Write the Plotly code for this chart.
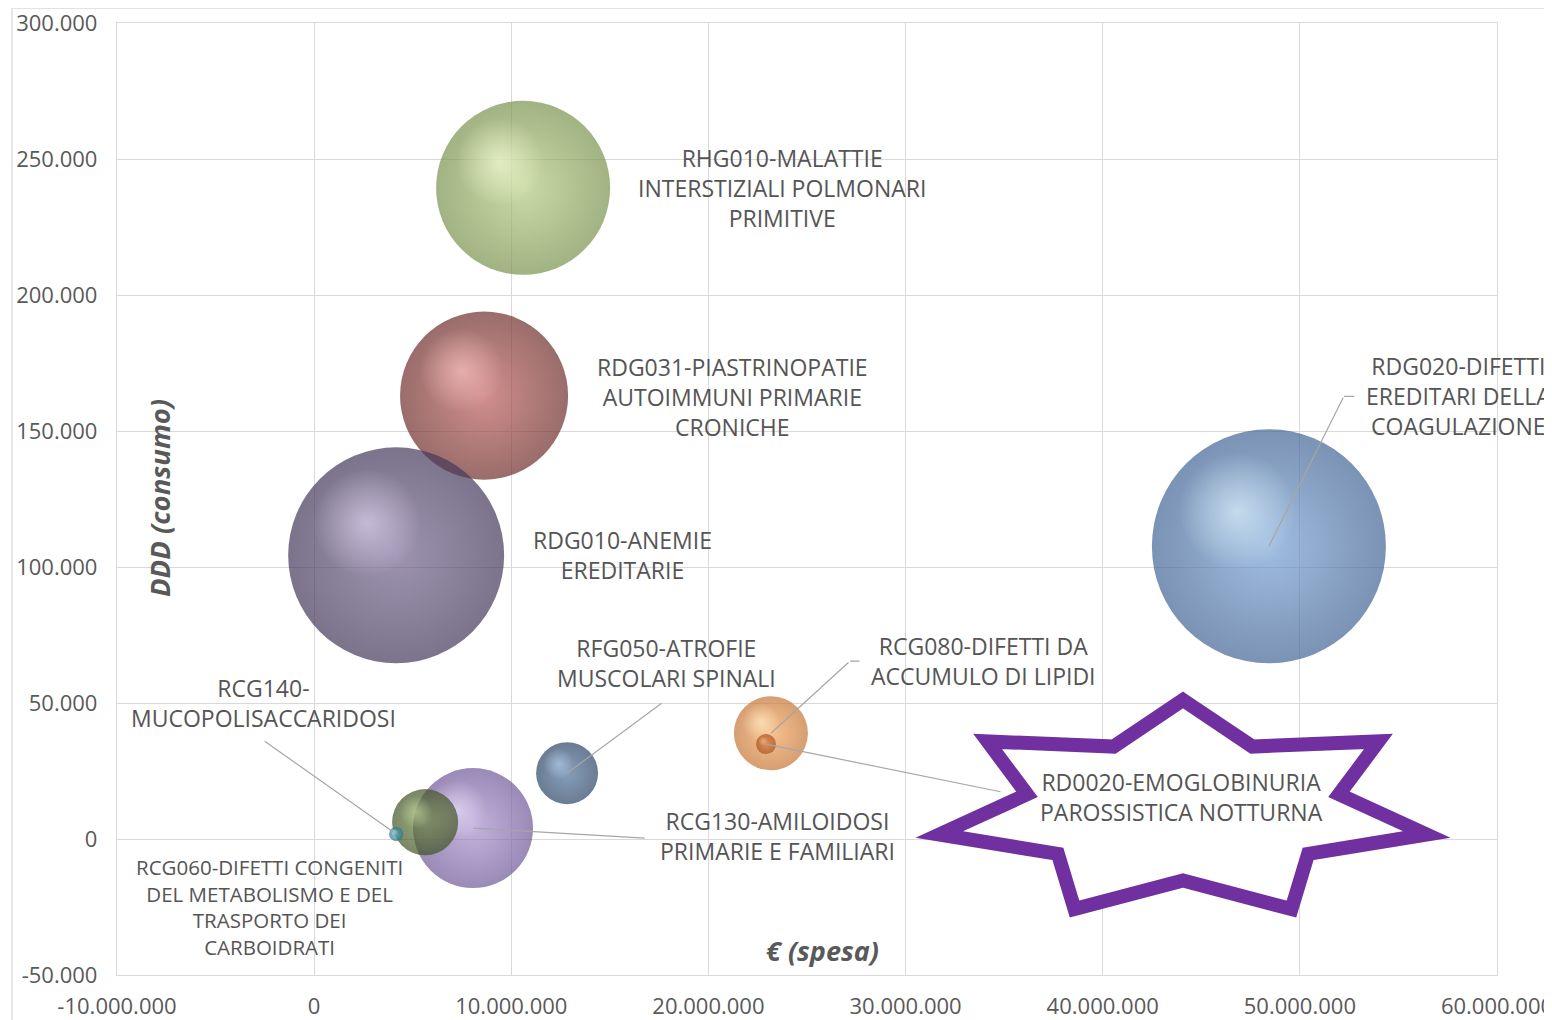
import math
import plotly.graph_objects as go

# ---------------- data ----------------
codici = ["RDG031", "RDG010", "RHG010", "RDG020", "RCG130",
          "RCG060", "RCG140", "RFG050", "RCG080", "RD0020"]
etichette = [
    "RDG031-PIASTRINOPATIE<br>AUTOIMMUNI PRIMARIE<br>CRONICHE",
    "RDG010-ANEMIE<br>EREDITARIE",
    "RHG010-MALATTIE<br>INTERSTIZIALI POLMONARI<br>PRIMITIVE",
    "RDG020-DIFETTI<br>EREDITARI DELLA<br>COAGULAZIONE",
    "RCG130-AMILOIDOSI<br>PRIMARIE E FAMILIARI",
    "RCG060-DIFETTI CONGENITI<br>DEL METABOLISMO E DEL<br>TRASPORTO DEI<br>CARBOIDRATI",
    "RCG140-<br>MUCOPOLISACCARIDOSI",
    "RFG050-ATROFIE<br>MUSCOLARI SPINALI",
    "RCG080-DIFETTI DA<br>ACCUMULO DI LIPIDI",
    "RD0020-EMOGLOBINURIA<br>PAROSSISTICA NOTTURNA",
]
spesa = [8_620_000, 4_160_000, 10_600_000, 48_430_000, 8_060_000,
         5_630_000, 4_160_000, 12_830_000, 23_170_000, 22_920_000]      # € (spesa)
ddd = [163_000, 104_300, 239_400, 107_600, 4_000,
       6_200, 1_800, 24_200, 38_900, 34_900]                             # DDD (consumo)
pazienti = [706, 1166, 757, 1369, 360, 109, 5, 96, 137, 10]              # bubble size

x_tickvals = [-10_000_000, 0, 10_000_000, 20_000_000, 30_000_000,
              40_000_000, 50_000_000, 60_000_000]
x_ticktext = ["-10.000.000", "0", "10.000.000", "20.000.000", "30.000.000",
              "40.000.000", "50.000.000", "60.000.000"]
y_tickvals = [-50_000, 0, 50_000, 100_000, 150_000, 200_000, 250_000, 300_000]
y_ticktext = ["-50.000", "0", "50.000", "100.000", "150.000",
              "200.000", "250.000", "300.000"]

# ---------------- style ----------------
col_centro = ["#BC5E5B", "#73658F", "#B3CB82", "#77A0D2", "#A891CC",
              "#6E8A40", "#4FB2CC", "#52739C", "#F6A660", "#DB7A3C"]
col_bordo = ["#6E2E2C", "#433859", "#7A924E", "#426494", "#6F5898",
             "#405224", "#27738A", "#2B4464", "#C47534", "#A35220"]
col_luce = ["255,200,200", "228,216,244", "250,255,216", "224,246,255", "238,228,255",
            "196,216,160", "208,244,255", "184,208,236", "255,244,200", "248,192,144"]
# label offsets (px) from bubble centre, font sizes
lab_dx = [248, 226, 259, 190, 304, -156, -133, 99, 213, 416]
lab_dy = [1, 0, 0, -150, 8, 85, -131, -110, -72, 53]
lab_fs = [23, 23, 23, 23, 23, 20.5, 23, 23, 23, 23]
# leader lines: end offset (px) from bubble centre, stub length
lead = {
    "RDG020": (75, -150, 12),
    "RFG050": (96, -71, 0),
    "RCG080": (79, -72, 11),
    "RD0020": (236, 48, 0),
    "RCG130": (173, 10, 0),
    "RCG140": (-133, -94, 0),
}

# page offset of the figure (browser body margin)
OFF = 8
W, H = 1544, 1012
# plot area in page pixels
PL, PR, PT, PB = 117, 1497, 23, 975
PW, PH = PR - PL, PB - PT
ML, MT = PL - OFF, PT - OFF
MR, MB = W - ML - PW, H - MT - PH
XR = [-10_000_000, 60_000_000]
YR = [-50_000, 300_000]
xper = (XR[1] - XR[0]) / PW
yper = (YR[1] - YR[0]) / PH
SIZEREF = 0.05

fig = go.Figure()
for i in range(len(codici)):
    fig.add_trace(go.Scatter(
        x=[spesa[i]], y=[ddd[i]], mode="markers", name=codici[i],
        marker=dict(size=[pazienti[i]], sizemode="area", sizeref=SIZEREF,
                    color=col_bordo[i], line=dict(width=0),
                    gradient=dict(type="radial", color=col_centro[i])),
        hoverinfo="name", showlegend=False))
    r = math.sqrt(2 * pazienti[i] / SIZEREF) / 2
    fig.add_trace(go.Scatter(
        x=[spesa[i] - 0.27 * r * xper], y=[ddd[i] + 0.3 * r * yper], mode="markers",
        marker=dict(size=[pazienti[i] / 4], sizemode="area", sizeref=SIZEREF,
                    color="rgba(%s,0)" % col_luce[i], line=dict(width=0),
                    gradient=dict(type="radial", color="rgba(%s,0.9)" % col_luce[i])),
        hoverinfo="skip", showlegend=False))

TXT = "#555555"
FONT = "Open Sans"
ann = []
for i, c in enumerate(codici):
    if c in lead:
        ax, ay, stub = lead[c]
        ann.append(dict(x=spesa[i], y=ddd[i], xref="x", yref="y", text="",
                        showarrow=True, arrowhead=0, arrowwidth=1.2, arrowcolor="#a6a6a6",
                        ax=ax, ay=ay, standoff=0, startstandoff=0))
        if stub:
            ann.append(dict(x=spesa[i], y=ddd[i], xref="x", yref="y", text="",
                            xshift=ax, yshift=-ay,
                            showarrow=True, arrowhead=0, arrowwidth=1.2, arrowcolor="#a6a6a6",
                            ax=stub, ay=0, standoff=0, startstandoff=0))
for i, c in enumerate(codici):
    ann.append(dict(x=spesa[i], y=ddd[i], xref="x", yref="y", text=etichette[i],
                    showarrow=False, xshift=lab_dx[i], yshift=-lab_dy[i],
                    xanchor="center", yanchor="middle", align="center",
                    font=dict(family=FONT, size=lab_fs[i], color=TXT)))

def px2paper(X, Y):
    return (X - PL) / PW, (PB - Y) / PH

ann.append(dict(x=px2paper(822, 950)[0], y=px2paper(822, 950)[1], xref="paper", yref="paper",
                xanchor="center", yanchor="middle",
                text="<b><i>€ (spesa)</i></b>", showarrow=False,
                font=dict(family=FONT, size=27, color="#595959")))
ann.append(dict(x=px2paper(159, 498)[0], y=px2paper(159, 498)[1], xref="paper", yref="paper",
                xanchor="center", yanchor="middle",
                text="<b><i>DDD (consumo)</i></b>", showarrow=False, textangle=-90,
                font=dict(family=FONT, size=27.5, color="#595959")))

# 7-point star (decoration)
cx, cy, Rx, Ry, k = 1183, 810, 250, 110, 0.64
pts = []
for j in range(14):
    th = math.radians(j * 180 / 7)
    f = 1 if j % 2 == 0 else k
    pts.append(px2paper(cx + Rx * f * math.sin(th), cy - Ry * f * math.cos(th)))
path = "M " + " L ".join("%.5f %.5f" % p for p in pts) + " Z"

b0 = px2paper(12, 1040)
b1 = px2paper(1565, 8)
shapes = [
    dict(type="path", path=path, xref="paper", yref="paper", layer="above",
         fillcolor="white", line=dict(color="#7030A0", width=14)),
    dict(type="rect", xref="paper", yref="paper", x0=b0[0], y0=b0[1], x1=b1[0], y1=b1[1],
         line=dict(color="#d9d9d9", width=1.3), fillcolor="rgba(0,0,0,0)", layer="below"),
]

axis_common = dict(showgrid=True, gridcolor="#d9d9d9", gridwidth=1.2, zeroline=False,
                   showline=True, linecolor="#d9d9d9", linewidth=1.3, mirror=True,
                   automargin=False, ticklabeloverflow="allow",
                   ticks="", tickfont=dict(family=FONT, size=22, color="#595959"))
fig.update_layout(
    width=W, height=H, margin=dict(l=ML, r=MR, t=MT, b=MB, autoexpand=False),
    paper_bgcolor="white", plot_bgcolor="white",
    xaxis=dict(range=XR, tickvals=x_tickvals, ticktext=x_ticktext,
               ticklabelstandoff=11, **axis_common),
    yaxis=dict(range=YR, tickvals=y_tickvals, ticktext=y_ticktext,
               ticklabelstandoff=14, **axis_common),
    annotations=ann, shapes=shapes, showlegend=False,
)
fig.write_html("out.html")
